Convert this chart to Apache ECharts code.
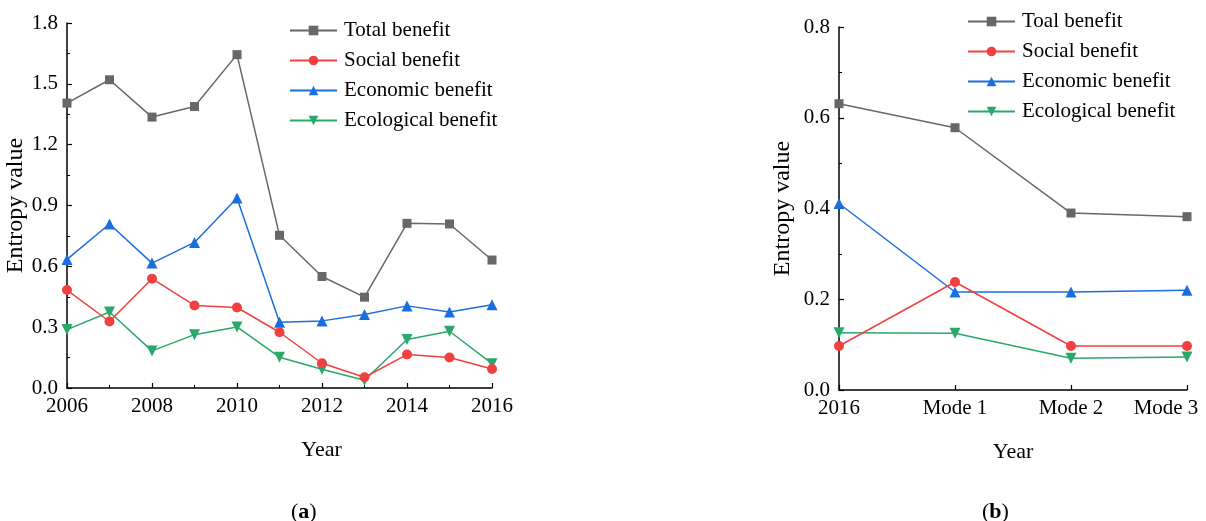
<!DOCTYPE html>
<html>
<head>
<meta charset="utf-8">
<script src="https://cdn.jsdelivr.net/npm/echarts@6/dist/echarts.min.js"></script>
<style>
  html, body { margin: 0; padding: 0; background: #fff; }
  #chart { width: 1206px; height: 521px; }
</style>
</head>
<body>
<div id="chart"></div>
<script>
var myChart = echarts.init(document.getElementById('chart'));

// panel (a): years 2006-2016
var years = [2006, 2007, 2008, 2009, 2010, 2011, 2012, 2013, 2014, 2015, 2016];
var totalA = [1.405, 1.52, 1.336, 1.388, 1.644, 0.753, 0.55, 0.448, 0.812, 0.809, 0.631];
var socialA = [0.483, 0.328, 0.539, 0.407, 0.397, 0.275, 0.122, 0.053, 0.165, 0.150, 0.094];
var economicA = [0.634, 0.809, 0.616, 0.718, 0.937, 0.324, 0.331, 0.362, 0.405, 0.375, 0.41];
var ecologicalA = [0.288, 0.375, 0.183, 0.263, 0.301, 0.152, 0.092, 0.038, 0.239, 0.28, 0.12];

// panel (b): 2016 vs modes
var modes = ['2016', 'Mode 1', 'Mode 2', 'Mode 3'];
var totalB = [0.631, 0.578, 0.39, 0.382];
var socialB = [0.097, 0.238, 0.097, 0.097];
var economicB = [0.411, 0.216, 0.216, 0.22];
var ecologicalB = [0.126, 0.125, 0.07, 0.073];

var namesA = ['Total benefit', 'Social benefit', 'Economic benefit', 'Ecological benefit'];
var namesB = ['Toal benefit', 'Social benefit', 'Economic benefit', 'Ecological benefit'];

var colors = ['#676767', '#f14040', '#1a6fdf', '#2aa86a'];
var symbols = ['rect', 'circle', 'triangle', 'path://M0,0 L10,0 L5,9 Z'];
var symbolSizes = [9, 10, 11, 11];
var font = 'Liberation Serif';

function pairs(xs, ys) {
  return xs.map(function (x, i) { return [x, ys[i]]; });
}

function lineSeries(name, i, data, gi) {
  return {
    name: name,
    type: 'line',
    xAxisIndex: gi,
    yAxisIndex: gi,
    data: data,
    symbol: symbols[i],
    symbolSize: symbolSizes[i],
    showAllSymbol: true,
    lineStyle: { color: colors[i], width: 1.5 },
    itemStyle: { color: colors[i] },
    z: 2 + (4 - i)
  };
}

var axisCommon = {
  axisLine: { show: true, lineStyle: { color: '#000', width: 1.5 } },
  axisTick: { show: true, inside: true, length: 5, lineStyle: { color: '#000', width: 1.2 } },
  minorTick: { show: true, splitNumber: 2, length: 3, lineStyle: { color: '#000', width: 1 } },
  splitLine: { show: false },
  axisLabel: { color: '#000', fontFamily: font, fontSize: 21, margin: 8 },
  nameTextStyle: { color: '#000', fontFamily: font, fontSize: 22 }
};

function ax(extra) {
  return Object.assign({}, JSON.parse(JSON.stringify(axisCommon)), extra);
}

var series = [];
[totalA, socialA, economicA, ecologicalA].forEach(function (d, i) {
  series.push(lineSeries(namesA[i], i, pairs(years, d), 0));
});
[totalB, socialB, economicB, ecologicalB].forEach(function (d, i) {
  series.push(lineSeries(namesB[i], i, d, 1));
});

var legendStyle = {
  orient: 'vertical',
  padding: 0,
  itemWidth: 47,
  itemHeight: 12,
  itemGap: 9,
  textStyle: { color: '#000', fontFamily: font, fontSize: 21, padding: [0, 0, 0, 2] }
};

var yLabel = { color: '#000', fontFamily: font, fontSize: 21, margin: 9, formatter: function (v) { return v.toFixed(1); } };
var yName = { color: '#000', fontFamily: font, fontSize: 24 };

var option = {
  animation: false,
  backgroundColor: '#fff',
  grid: [
    { left: 67, top: 23, width: 425, height: 365, outerBoundsMode: 'none' },
    { left: 839, top: 27, width: 348, height: 363, outerBoundsMode: 'none' }
  ],
  legend: [
    Object.assign({}, legendStyle, { left: 289, top: 20, data: namesA }),
    Object.assign({}, legendStyle, { left: 967, top: 11, data: namesB })
  ],
  xAxis: [
    ax({
      type: 'value', gridIndex: 0, min: 2006, max: 2016, interval: 2,
      name: 'Year', nameLocation: 'middle', nameGap: 51,
      nameTextStyle: { color: '#000', fontFamily: font, fontSize: 22, padding: [0, 0, 0, 84] },
      axisLabel: { color: '#000', fontFamily: font, fontSize: 21, margin: 8, formatter: function (v) { return String(v); } }
    }),
    ax({
      type: 'category', gridIndex: 1, data: modes, boundaryGap: false,
      name: 'Year', nameLocation: 'middle', nameGap: 51,
      axisTick: { show: true, inside: true, interval: 0, length: 5, lineStyle: { color: '#000', width: 1.2 } },
      axisLabel: {
        interval: 0, hideOverlap: false,
        color: '#000', fontFamily: font, fontSize: 21, margin: 8,
        formatter: function (v, i) { return i === modes.length - 1 ? '{m|' + v + '}' : v; },
        rich: { m: { color: '#000', fontFamily: font, fontSize: 21, padding: [0, 42, 0, 0] } }
      }
    })
  ],
  yAxis: [
    ax({
      type: 'value', gridIndex: 0, min: 0, max: 1.8, interval: 0.3,
      name: 'Entropy value', nameLocation: 'middle', nameGap: 33,
      axisLabel: yLabel, nameTextStyle: yName
    }),
    ax({
      type: 'value', gridIndex: 1, min: 0, max: 0.8, interval: 0.2,
      name: 'Entropy value', nameLocation: 'middle', nameGap: 44,
      axisLabel: yLabel, nameTextStyle: yName
    })
  ],
  title: [
    {
      text: '({a|a})', left: 286, top: 496,
      textStyle: { color: '#000', fontFamily: font, fontSize: 22, fontWeight: 'normal', rich: { a: { fontFamily: font, fontSize: 22, fontWeight: 'bold', color: '#000' } } }
    },
    {
      text: '({b|b})', left: 977, top: 496,
      textStyle: { color: '#000', fontFamily: font, fontSize: 22, fontWeight: 'normal', rich: { b: { fontFamily: font, fontSize: 22, fontWeight: 'bold', color: '#000' } } }
    }
  ],
  series: series
};

myChart.setOption(option);
</script>
</body>
</html>
